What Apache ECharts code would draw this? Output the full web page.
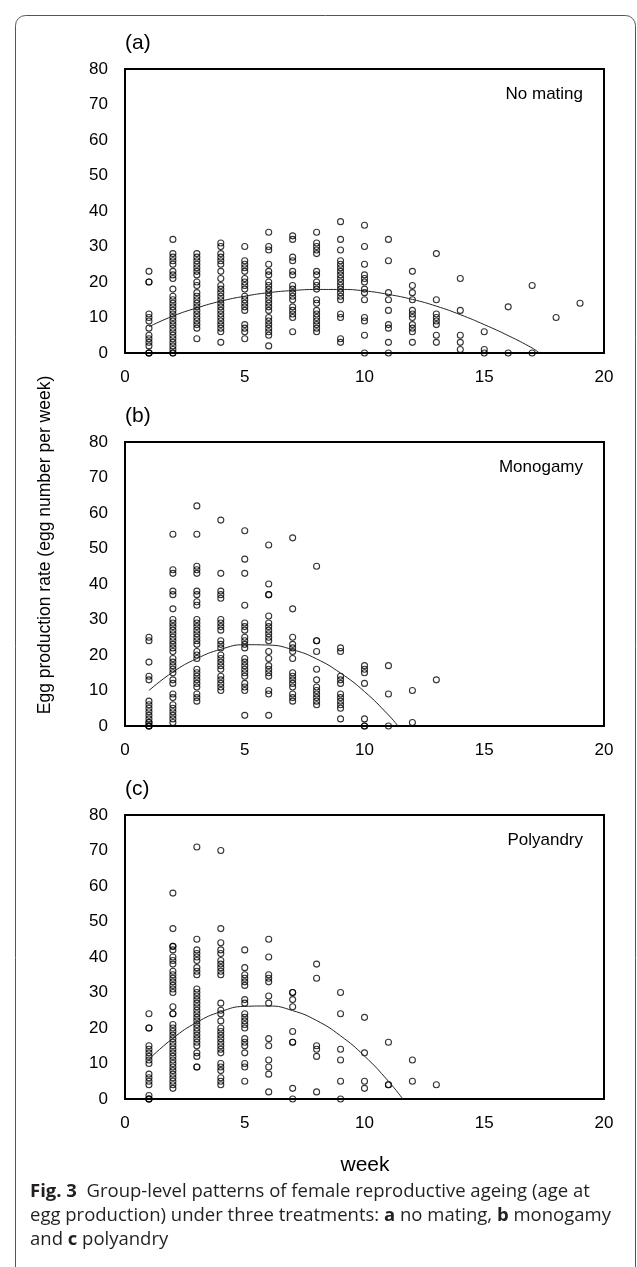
<!DOCTYPE html>
<html lang="en">
<head>
    <meta charset="UTF-8">
    <title>Fig. 3 egg production</title>
    <script src="https://cdn.jsdelivr.net/npm/echarts@6/dist/echarts.min.js"></script>
    <style>
        html, body { margin: 0; padding: 0; background: #fff; }
        #fig { width: 637px; height: 1267px; }
    </style>
</head>
<body>
<div id="fig"></div>
<script type="text/javascript">
    // egg counts per week, index 0 = week 1
    var noMating = [
        [23, 20, 20, 11, 10, 9, 7, 5, 4, 3, 2, 0, 0, 0],
        [32, 28, 27, 26, 25, 23, 22, 21, 18, 16, 15, 14, 13, 12, 11, 10, 9, 8, 7, 6, 5, 4, 3, 2, 1, 0, 0],
        [28, 27, 26, 25, 24, 23, 22, 20, 19, 17, 16, 15, 14, 13, 12, 11, 10, 9, 8, 7, 4],
        [31, 30, 28, 27, 26, 25, 23, 21, 19, 18, 17, 16, 15, 14, 13, 12, 11, 10, 9, 8, 7, 6, 3],
        [30, 26, 25, 24, 23, 21, 20, 19, 18, 16, 15, 14, 13, 12, 8, 7, 6, 4],
        [34, 30, 29, 25, 23, 22, 20, 19, 18, 17, 16, 15, 14, 13, 12, 10, 9, 8, 7, 6, 5, 2],
        [33, 32, 27, 26, 23, 22, 19, 18, 17, 16, 15, 13, 12, 11, 10, 6],
        [34, 31, 30, 29, 28, 23, 22, 20, 19, 18, 15, 14, 12, 11, 10, 9, 8, 7, 6],
        [37, 32, 29, 26, 25, 24, 23, 22, 21, 20, 19, 18, 17, 16, 15, 11, 10, 4, 3],
        [36, 30, 25, 22, 21, 20, 18, 17, 15, 10, 9, 5, 0],
        [32, 26, 17, 15, 12, 8, 7, 3, 0],
        [23, 19, 17, 15, 12, 11, 10, 8, 7, 6, 3],
        [28, 15, 11, 10, 9, 8, 5, 3],
        [21, 12, 5, 3, 1],
        [6, 1, 0],
        [13, 0],
        [19, 0],
        [10],
        [14]
    ];
    var monogamy = [
        [25, 24, 18, 14, 13, 7, 6, 5, 4, 3, 2, 1, 1, 0, 0, 0],
        [54, 44, 43, 38, 37, 33, 30, 29, 28, 27, 26, 25, 24, 23, 22, 21, 19, 18, 17, 16, 15, 13, 12, 9, 8, 6, 5, 4, 3, 2, 1],
        [62, 54, 45, 44, 43, 38, 37, 35, 34, 30, 29, 28, 27, 26, 25, 24, 23, 21, 20, 19, 16, 15, 14, 13, 12, 11, 9, 8, 7],
        [58, 43, 38, 37, 36, 30, 29, 28, 27, 24, 23, 22, 20, 19, 18, 17, 16, 14, 13, 12, 11, 10],
        [55, 47, 43, 34, 29, 28, 27, 25, 24, 23, 22, 19, 18, 17, 16, 15, 14, 12, 11, 10, 3],
        [51, 40, 37, 37, 31, 29, 28, 27, 26, 25, 24, 21, 19, 17, 16, 15, 14, 10, 9, 3],
        [53, 33, 25, 23, 22, 21, 19, 15, 14, 13, 12, 11, 9, 8, 7],
        [45, 24, 24, 21, 16, 13, 11, 10, 9, 8, 7, 6],
        [22, 21, 14, 13, 12, 9, 8, 7, 6, 5, 2],
        [17, 16, 15, 12, 2, 0, 0],
        [17, 9, 0],
        [10, 1],
        [13]
    ];
    var polyandry = [
        [24, 20, 20, 15, 14, 13, 12, 11, 10, 7, 6, 5, 4, 1, 0, 0, 0],
        [58, 48, 43, 43, 42, 40, 39, 38, 36, 35, 34, 33, 32, 31, 30, 26, 24, 24, 21, 20, 19, 18, 17, 16, 15, 14, 13, 12, 11, 10, 9, 8, 7, 6, 5, 4, 3],
        [71, 45, 42, 41, 40, 39, 37, 36, 35, 31, 30, 29, 28, 27, 26, 25, 24, 23, 22, 21, 20, 19, 18, 17, 16, 15, 13, 12, 9, 9],
        [70, 48, 44, 42, 41, 39, 38, 37, 36, 35, 27, 25, 24, 22, 20, 19, 18, 17, 16, 15, 14, 13, 10, 9, 8, 6, 5, 4],
        [42, 37, 35, 34, 33, 32, 28, 27, 24, 23, 22, 21, 20, 17, 16, 15, 13, 10, 9, 5],
        [45, 40, 35, 34, 33, 29, 27, 17, 15, 11, 9, 7, 2],
        [30, 30, 28, 26, 19, 16, 16, 3, 0],
        [38, 34, 15, 14, 12, 2],
        [30, 24, 14, 11, 5, 0],
        [23, 13, 5, 3],
        [16, 4, 4],
        [11, 5],
        [4]
    ];

    // fitted curves
    var fitWeeksA = [1, 2, 3, 4, 5, 6, 7, 8, 9, 10, 11, 12, 13, 14, 15, 16, 17, 17.3];
    var fitA = [7.4, 10.4, 12.7, 14.6, 16, 17, 17.6, 17.9, 17.9, 17.5, 16.5, 15.1, 13.2, 10.8, 8, 4.9, 1.4, 0];
    var fitWeeksB = [1, 2, 3, 4, 5, 6, 7, 8, 9, 10, 11, 11.4];
    var fitB = [10, 15.2, 19, 21.6, 22.9, 22.8, 21.5, 18.9, 14.9, 9.7, 3.1, 0];
    var fitWeeksC = [1, 2, 3, 4, 5, 6, 7, 8, 9, 10, 11, 11.6];
    var fitC = [11.2, 17.1, 21.6, 24.6, 26.1, 26.2, 24.9, 22.1, 17.8, 12.1, 5, 0];

    var panelLetters = ['(a)', '(b)', '(c)'];
    var panelNames = ['No mating', 'Monogamy', 'Polyandry'];
    var xTicks = [0, 5, 10, 15, 20];
    var yTicks = [0, 10, 20, 30, 40, 50, 60, 70, 80];

    var myChart = echarts.init(document.getElementById('fig'));

    var tops = [69, 442, 815];
    var plotH = 284;
    var arial = '"Liberation Sans", Arial, sans-serif';
    var captionFont = '"Open Sans", "Noto Sans", sans-serif';

    function toPoints(weeks) {
        var pts = [];
        for (var i = 0; i < weeks.length; i++) {
            for (var j = 0; j < weeks[i].length; j++) {
                pts.push([i + 1, weeks[i][j]]);
            }
        }
        return pts;
    }

    function pair(xs, ys) {
        return xs.map(function (x, i) { return [x, ys[i]]; });
    }

    var grids = [], xAxes = [], yAxes = [], series = [], graphics = [];
    var groups = [noMating, monogamy, polyandry];
    var fits = [pair(fitWeeksA, fitA), pair(fitWeeksB, fitB), pair(fitWeeksC, fitC)];

    for (var k = 0; k < 3; k++) {
        grids.push({
            left: 125, width: 479, top: tops[k], height: plotH,
            show: true, borderColor: '#000', borderWidth: 2, backgroundColor: 'transparent'
        });
        xAxes.push({
            gridIndex: k, type: 'value',
            min: xTicks[0], max: xTicks[xTicks.length - 1], interval: 5,
            axisLine: {show: true, onZero: false, lineStyle: {color: '#000', width: 2}},
            axisTick: {show: false},
            splitLine: {show: false},
            axisLabel: {color: '#000', fontSize: 17, fontFamily: arial, margin: 16}
        });
        yAxes.push({
            gridIndex: k, type: 'value',
            min: yTicks[0], max: yTicks[yTicks.length - 1], interval: 10,
            axisLine: {show: true, onZero: false, lineStyle: {color: '#000', width: 2}},
            axisTick: {show: false},
            splitLine: {show: false},
            axisLabel: {color: '#000', fontSize: 17, fontFamily: arial, margin: 17}
        });
        series.push({
            type: 'scatter', xAxisIndex: k, yAxisIndex: k,
            data: toPoints(groups[k]),
            symbol: 'circle', symbolSize: 6,
            itemStyle: {color: 'rgba(255,255,255,0)', borderColor: '#000', borderWidth: 1.1},
            silent: true, z: 3
        });
        series.push({
            type: 'line', xAxisIndex: k, yAxisIndex: k,
            data: fits[k], smooth: true, showSymbol: false,
            lineStyle: {color: '#222', width: 1},
            silent: true, z: 4
        });
        graphics.push({
            type: 'text', left: 125, top: tops[k] - 36,
            style: {text: panelLetters[k], font: '21px ' + arial, fill: '#000'}
        });
        graphics.push({
            type: 'text', right: 54, top: tops[k] + 17,
            style: {text: panelNames[k], font: '17px ' + arial, fill: '#000'}
        });
    }

    // figure frame
    graphics.unshift({
        type: 'rect', left: 13, top: 13,
        shape: {width: 620, height: 1300, r: 10},
        style: {fill: 'none', stroke: '#555', lineWidth: 1}
    });
    graphics.push({
        type: 'text', x: 45, y: 545, rotation: Math.PI / 2,
        style: {
            text: 'Egg production rate (egg number per week)',
            font: '17.5px ' + arial, fill: '#000',
            textAlign: 'center', textVerticalAlign: 'middle',
            align: 'center', verticalAlign: 'middle'
        }
    });
    graphics.push({
        type: 'text', x: 365, y: 1165,
        style: {
            text: 'week', font: '21px ' + arial, fill: '#000',
            textAlign: 'center', textVerticalAlign: 'middle',
            align: 'center', verticalAlign: 'middle'
        }
    });

    var option = {
        animation: false,
        title: {
            left: 25, top: 1175,
            text: '{b|Fig. 3}  Group-level patterns of female reproductive ageing (age at\n' +
                'egg production) under three treatments: {b|a} no mating, {b|b} monogamy\n' +
                'and {b|c} polyandry',
            textStyle: {
                fontFamily: captionFont,
                fontSize: 18.5, fontWeight: 'normal', color: '#231f20', lineHeight: 24,
                rich: {
                    b: {fontFamily: captionFont, fontSize: 18.5, fontWeight: 'bold', color: '#231f20', lineHeight: 24}
                }
            }
        },
        grid: grids,
        xAxis: xAxes,
        yAxis: yAxes,
        series: series,
        graphic: graphics
    };

    myChart.setOption(option);
</script>
</body>
</html>
